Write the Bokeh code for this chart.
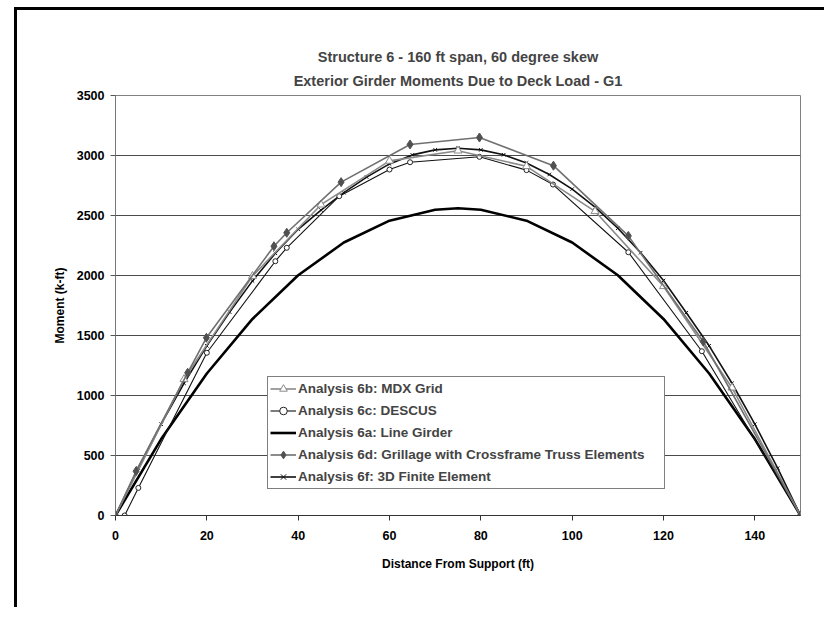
from bokeh.plotting import figure
from bokeh.models import Title, Legend, LegendItem, Range1d, FixedTicker
from bokeh.embed import file_html
from bokeh.resources import INLINE

# ---- data ----
mdx_x = [0, 15, 30, 45, 60, 75, 90, 105, 120, 135, 150]
mdx_y = [0, 1135, 1995, 2590, 2955, 3040, 2910, 2535, 1910, 1065, 0]

descus_x = [2, 5, 20, 35, 37.5, 49, 60, 64.5, 79.7, 90, 95.8, 112.3, 128.4, 150]
descus_y = [0, 230, 1356, 2119, 2231, 2661, 2883, 2944, 2989, 2878, 2758, 2194, 1369, 0]

girder_x = [0, 10, 20, 30, 40, 50, 60, 70, 75, 80, 90, 100, 110, 120, 130, 140, 150]
girder_y = [0, 637, 1183, 1638, 2002, 2275, 2457, 2548, 2560, 2548, 2457, 2275, 2002, 1638, 1183, 637, 0]

grill_x = [0, 4.5, 15.8, 19.9, 34.7, 37.5, 49.4, 64.5, 79.7, 95.9, 112.3, 128.7, 150]
grill_y = [0, 369, 1189, 1481, 2244, 2356, 2778, 3092, 3150, 2915, 2330, 1450, 0]

fe_x = [0, 5, 10, 15, 20, 25, 30, 35, 40, 45, 50, 55, 60, 65, 70, 75,
        80, 85, 90, 95, 100, 105, 110, 115, 120, 125, 130, 135, 140, 145, 150]
fe_y = [0, 394, 761, 1102, 1414, 1695, 1955, 2185, 2385, 2545, 2690, 2820, 2930, 3005, 3047, 3060,
        3047, 3006, 2938, 2842, 2720, 2570, 2394, 2190, 1958, 1690, 1414, 1102, 761, 394, 0]

title_lines = [
    "Structure 6 - 160 ft span, 60 degree skew",
    "Exterior Girder Moments Due to Deck Load - G1",
]
labels = [
    "Analysis 6b: MDX Grid",
    "Analysis 6c: DESCUS",
    "Analysis 6a: Line Girder",
    "Analysis 6d: Grillage with Crossframe Truss Elements",
    "Analysis 6f: 3D Finite Element",
]
y_ticks = [0, 500, 1000, 1500, 2000, 2500, 3000, 3500]
x_ticks = [0, 20, 40, 60, 80, 100, 120, 140]

FONT = "Liberation Sans"

p = figure(width=810, height=600, output_backend="svg", toolbar_location=None,
           x_range=Range1d(0, 150), y_range=Range1d(0, 3500),
           min_border_left=98, min_border_right=27, min_border_top=85, min_border_bottom=95)
p.margin = (7, 0, 0, 14)
p.styles = {"border-left": "3px solid black", "border-top": "3px solid black"}
p.background_fill_color = "white"
p.border_fill_color = "white"
p.outline_line_color = "#808080"

# titles
p.title.text = title_lines[0]
p.title.align = "center"
p.title.text_font = FONT
p.title.text_font_size = "14.5px"
p.title.text_font_style = "bold"
p.title.text_line_height = 1.0
p.title.standoff = 0
t2 = Title(text=title_lines[1], align="center",
           text_font=FONT, text_font_size="14.5px", text_font_style="bold",
           text_line_height=0.8, standoff=13)
p.add_layout(t2, "above")

# axes
for ax in (p.xaxis[0], p.yaxis[0]):
    ax.major_label_text_font = FONT
    ax.major_label_text_font_size = "12.5px"
    ax.major_label_text_font_style = "bold"
    ax.major_label_text_color = "black"
    ax.axis_label_text_font = FONT
    ax.axis_label_text_font_size = "12px"
    ax.axis_label_text_font_style = "bold"
    ax.axis_label_text_color = "black"
    ax.minor_tick_line_color = None
    ax.major_tick_out = 5
    ax.major_tick_in = 0
p.xaxis.ticker = FixedTicker(ticks=x_ticks)
p.yaxis.ticker = FixedTicker(ticks=y_ticks)
p.xaxis.axis_label = "Distance From Support (ft)"
p.yaxis.axis_label = "Moment (k-ft)"
p.xaxis.axis_line_color = "#333333"
p.xaxis.major_tick_line_color = "#333333"
p.yaxis.axis_line_color = "#777777"
p.yaxis.major_tick_line_color = "#555555"
p.xaxis.major_label_standoff = 10
p.yaxis.major_label_standoff = 6
p.xaxis.axis_label_standoff = 14
p.yaxis.axis_label_standoff = 7

p.xgrid.grid_line_color = None
p.ygrid.ticker = FixedTicker(ticks=y_ticks)
p.ygrid.grid_line_color = "#4a4a4a"
p.ygrid.grid_line_width = 1

# series
r_gird = p.line(girder_x, girder_y, line_color="black", line_width=2.6)

r_fe_l = p.line(fe_x, fe_y, line_color="#111111", line_width=1.6)
r_fe_m = p.scatter(fe_x, fe_y, marker="x", size=5, line_color="#111111", line_width=1)

r_des_l = p.line(descus_x, descus_y, line_color="#111111", line_width=1.1)
r_des_m = p.scatter(descus_x, descus_y, marker="circle", size=5, fill_color="white",
                    line_color="#222222", line_width=1)

r_mdx_l = p.line(mdx_x, mdx_y, line_color="#8a8a8a", line_width=1.6)
r_mdx_m = p.scatter(mdx_x, mdx_y, marker="triangle", size=8, fill_color="white",
                    line_color="#8a8a8a", line_width=1)

r_gr_l = p.line(grill_x, grill_y, line_color="#707070", line_width=1.6)
r_gr_m = p.scatter(grill_x, grill_y, marker="diamond", size=9, fill_color="#505050",
                   line_color="#505050", line_width=1)

legend = Legend(items=[
    LegendItem(label=labels[0], renderers=[r_mdx_l, r_mdx_m]),
    LegendItem(label=labels[1], renderers=[r_des_l, r_des_m]),
    LegendItem(label=labels[2], renderers=[r_gird]),
    LegendItem(label=labels[3], renderers=[r_gr_l, r_gr_m]),
    LegendItem(label=labels[4], renderers=[r_fe_l, r_fe_m]),
], location=(152, 26))
legend.margin = 0
legend.padding = 2
legend.spacing = 3
legend.glyph_width = 26
legend.glyph_height = 19
legend.label_height = 19
legend.label_width = 364
legend.label_standoff = 2
legend.label_text_font = FONT
legend.label_text_font_size = "13.5px"
legend.label_text_font_style = "bold"
legend.border_line_color = "black"
legend.border_line_width = 1
legend.background_fill_color = "white"
legend.background_fill_alpha = 1
p.add_layout(legend, "center")

open("out.html", "w").write(file_html(p, INLINE))
